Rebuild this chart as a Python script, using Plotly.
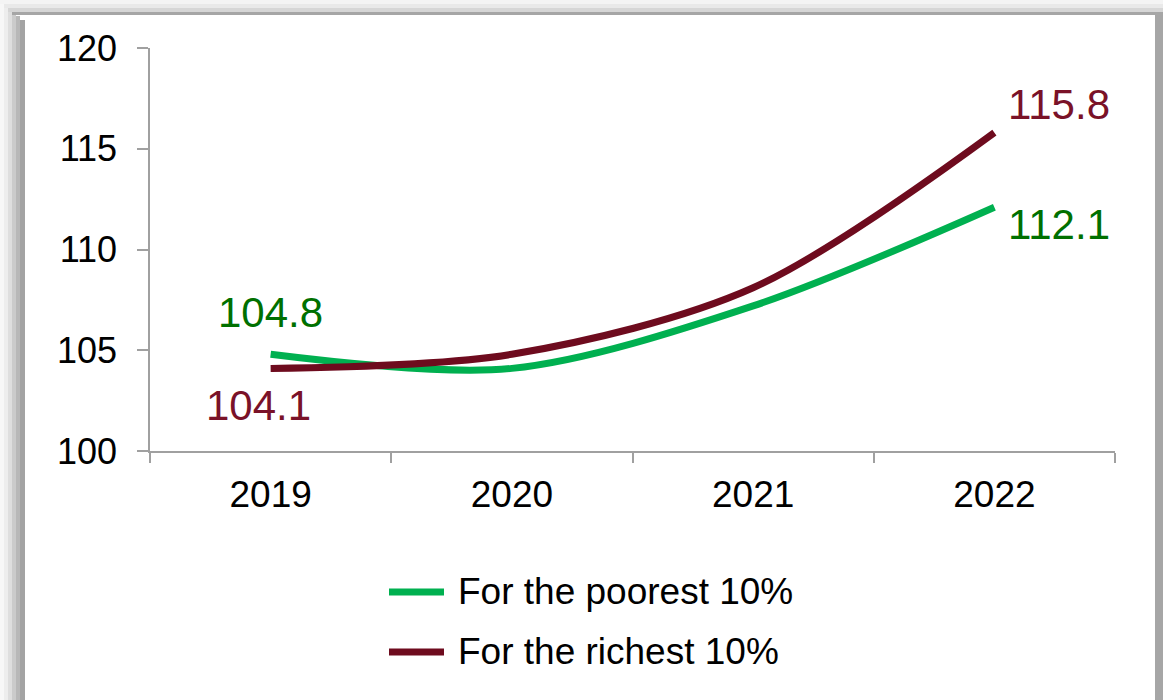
import plotly.graph_objects as go

years = ["2019", "2020", "2021", "2022"]
poorest = [104.8, 104.1, 107.2, 112.1]
richest = [104.1, 104.8, 108.1, 115.8]
y_ticks = [100, 105, 110, 115, 120]

GREEN = "#00B050"
RED = "#6E0B1E"
GREEN_TXT = "#007000"
RED_TXT = "#7A1228"
FONT = "Liberation Sans, Arial, sans-serif"

W, H = 1163, 700
L, R, T, B = 150, 48, 48, 249
pw, ph = W - L - R, H - T - B


def px(x):
    return (x - L) / pw


def py(y):
    return (H - B - y) / ph


fig = go.Figure()
fig.add_trace(go.Scatter(x=years, y=poorest, mode="lines", name="For the poorest 10%",
                         line=dict(color=GREEN, width=7, shape="spline", smoothing=0.9)))
fig.add_trace(go.Scatter(x=years, y=richest, mode="lines", name="For the richest 10%",
                         line=dict(color=RED, width=7, shape="spline", smoothing=0.9)))

ann = []
lab_font = 42
first, last = 0, len(years) - 1
ann.append(dict(x=first, y=poorest[first], text=f"{poorest[first]:.1f}", showarrow=False,
                xref="x", yref="y", xanchor="center", yanchor="middle", yshift=42,
                font=dict(size=lab_font, color=GREEN_TXT, family=FONT)))
ann.append(dict(x=first, y=richest[first], text=f"{richest[first]:.1f}", showarrow=False,
                xref="x", yref="y", xanchor="center", yanchor="middle", yshift=-37, xshift=-12,
                font=dict(size=lab_font, color=RED_TXT, family=FONT)))
ann.append(dict(x=last, y=richest[last], text=f"{richest[last]:.1f}", showarrow=False,
                xref="x", yref="y", xanchor="left", yanchor="middle", yshift=28, xshift=12,
                font=dict(size=lab_font, color=RED_TXT, family=FONT)))
ann.append(dict(x=last, y=poorest[last], text=f"{poorest[last]:.1f}", showarrow=False,
                xref="x", yref="y", xanchor="left", yanchor="middle", yshift=-17, xshift=12,
                font=dict(size=lab_font, color=GREEN_TXT, family=FONT)))

# manual legend
shapes = []
leg = [("For the poorest 10%", GREEN, 592), ("For the richest 10%", RED, 652)]
for name, col, yy in leg:
    shapes.append(dict(type="line", xref="paper", yref="paper", x0=px(389), x1=px(444),
                       y0=py(yy), y1=py(yy), line=dict(color=col, width=7)))
    ann.append(dict(x=px(456), y=py(yy - 1), xref="paper", yref="paper", text=name,
                    showarrow=False, xanchor="left", yanchor="middle",
                    font=dict(size=37, color="black", family=FONT)))

# frame / shadow
left_bands = [(0, 4, "#f7f7f7"), (4, 8, "#ededed"), (8, 12, "#dedede"),
              (12, 16, "#cbcbcb"), (16, 20, "#b8b8b8"), (20, 25, "#a3a3a3")]
for x0, x1, c in left_bands:
    shapes.append(dict(type="rect", xref="paper", yref="paper", x0=px(x0), x1=px(x1),
                       y0=py(x0), y1=py(H), fillcolor=c, line=dict(width=0), layer="above"))
top_bands = [(0, 4, "#f4f4f4"), (4, 8, "#e9e9e9"), (8, 12, "#d6d6d6"), (12, 15, "#a6a6a6")]
for y0, y1, c in top_bands:
    shapes.append(dict(type="rect", xref="paper", yref="paper", x0=px(y0), x1=px(W),
                       y0=py(y0), y1=py(y1), fillcolor=c, line=dict(width=0), layer="above"))
shapes.append(dict(type="rect", xref="paper", yref="paper", x0=px(1155), x1=px(W),
                   y0=py(12), y1=py(H), fillcolor="#a6a6a6", line=dict(width=0), layer="above"))

fig.update_layout(
    width=W, height=H,
    margin=dict(l=L, r=R, t=T, b=B),
    paper_bgcolor="white", plot_bgcolor="white",
    showlegend=False,
    annotations=ann, shapes=shapes,
    font=dict(family=FONT, color="black"),
)
fig.update_xaxes(type="category", range=[-0.5, 3.5], showgrid=False, showline=True,
                 linecolor="#a0a0a0", linewidth=1.5, ticks="outside", tickson="boundaries",
                 ticklen=10, tickcolor="#a0a0a0", tickwidth=1.5,
                 tickfont=dict(size=37, color="black", family=FONT), ticklabelstandoff=10)
fig.update_yaxes(range=[100, 120], tickvals=y_ticks, showgrid=False, showline=True,
                 linecolor="#a0a0a0", linewidth=1.5, ticks="outside", ticklen=11,
                 tickcolor="#a0a0a0", tickwidth=1.5, zeroline=False,
                 tickfont=dict(size=36, color="black", family=FONT), ticklabelstandoff=13)

fig.write_html("out.html", config={"displayModeBar": False},
               post_script="document.body.style.margin='0';")
